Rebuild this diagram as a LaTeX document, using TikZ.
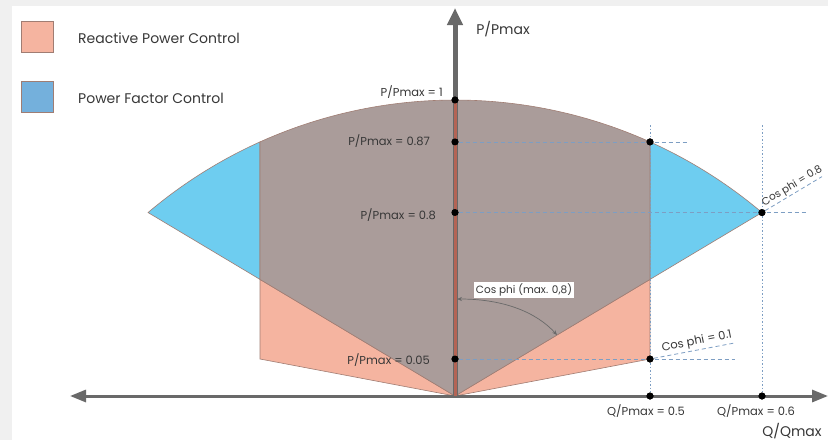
\documentclass[tikz,border=0pt]{standalone}
\usepackage{fontspec}
\setmainfont{Poppins}
\usetikzlibrary{arrows.meta,calc}

\definecolor{bgframe}{HTML}{F0F0F0}
\definecolor{reactive}{RGB}{245,180,160}
\definecolor{pfblue}{RGB}{110,205,240}
\definecolor{legblue}{RGB}{116,176,220}
\definecolor{opgray}{RGB}{170,156,154}
\definecolor{edge}{RGB}{160,125,115}
\definecolor{axisgray}{RGB}{105,105,105}
\definecolor{pline}{RGB}{180,100,85}
\definecolor{guide}{RGB}{125,158,195}
\definecolor{txt}{RGB}{55,55,55}

\begin{document}
\begin{tikzpicture}[x=1pt,y=-1pt,
  dot/.style={circle,fill=black,inner sep=0pt,minimum size=7pt},
  region/.style={draw=edge,line width=0.6pt},
  guideline/.style={draw=guide,line width=0.8pt,dash pattern=on 4pt off 3pt},
  guidevert/.style={draw=guide,line width=0.8pt,dash pattern=on 1.5pt off 2pt},
  lbl/.style={text=txt,font=\fontsize{11.5}{13}\selectfont,inner sep=0pt},
  biglbl/.style={text=txt,font=\fontsize{14}{16}\selectfont,inner sep=0pt},
  legbox/.style={draw=edge,line width=0.6pt},
  axisline/.style={draw=axisgray,line width=3pt},
]
\useasboundingbox (0,0) rectangle (828,440);
\fill[bgframe] (0,0) rectangle (828,440);
\fill[white] (12,6) rectangle (828,440);

% key points of the capability curve (circle centre C, radius 475)
\coordinate (O) at (455,396);
\coordinate (C) at (455,575);
\coordinate (RT) at ($(C)+(-65.76:475)$);   % right Q = 0.5 on the arc
\coordinate (LT) at ($(C)+(-114.24:475)$);  % left mirror
\coordinate (RTip) at ($(C)+(-49.74:475)$); % cos phi = 0.8 tip
\coordinate (LTip) at ($(C)+(-130.26:475)$);
\coordinate (RMid) at (650,279.4);
\coordinate (LMid) at (260,279.4);
\coordinate (RLow) at (650,359);
\coordinate (LLow) at (260,359);

% reactive power control areas
\fill[reactive,region] (O) -- (RLow) -- (RMid) -- cycle;
\fill[reactive,region] (O) -- (LLow) -- (LMid) -- cycle;
% power factor control areas
\fill[pfblue,region] (RT) arc[start angle=-65.76,end angle=-49.74,radius=475] -- (RMid) -- cycle;
\fill[pfblue,region] (LT) arc[start angle=-114.24,end angle=-130.26,radius=475] -- (LMid) -- cycle;
% common operating area
\fill[opgray,region] (O) -- (RMid) -- (RT) arc[start angle=-65.76,end angle=-114.24,radius=475] -- (LMid) -- cycle;

% axes
\draw[axisline,{Triangle[length=16pt,width=12pt]}-{Triangle[length=16pt,width=12pt]}] (70,396) -- (828,396);
\coordinate (Ptop) at (455,8);
\draw[draw=axisgray,line width=5pt,-{Triangle[length=17pt,width=15pt]}] (O) -- (Ptop);

% markers
\node[dot] (P1) at (455,100) {};
\node[dot] (P087) at (455,141.9) {};
\node[dot] (P08) at (455,212.5) {};
\node[dot] (P005) at (455,359) {};
\node[dot] (Q05top) at (RT) {};
\node[dot] (Q06top) at (RTip) {};
\node[dot] (Q05low) at (RLow) {};
\node[dot] (Q05) at (650,396) {};
\node[dot] (Q06) at (762,396) {};

\draw[pline,line width=3pt] (O) -- (P1.center);
\node[dot] at (P1) {};
\node[dot] at (P087) {};
\node[dot] at (P08) {};
\node[dot] at (P005) {};

% guide lines
\coordinate (g087) at (688,141.9);
\coordinate (g08) at (808,212.5);
\coordinate (g005) at (735,359);
\coordinate (v05) at (650,125);
\coordinate (v06) at (762,125);
\coordinate (ext08) at (822,176.6);
\coordinate (ext01) at (735,342.9);
\draw[guideline] (P087) -- (g087);
\draw[guideline] (P08) -- (g08);
\draw[guideline] (P005) -- (g005);
\draw[guidevert] (v05) -- (Q05);
\draw[guidevert] (v06) -- (Q06);
\draw[guideline] (Q06top) -- (ext08);
\draw[guideline] (Q05low) -- (ext01);
\node[dot] at (Q05top) {};
\node[dot] at (Q06top) {};
\node[dot] at (Q05low) {};
\node[dot] at (Q05) {};
\node[dot] at (Q06) {};

% labels
\node[lbl,anchor=east] (l1) at (443,92) {P/Pmax = 1};
\node[lbl,anchor=east] (l087) at (430,141) {P/Pmax = 0.87};
\node[lbl,anchor=east] (l08) at (436,215) {P/Pmax = 0.8};
\node[lbl,anchor=east] (l005) at (430,360) {P/Pmax = 0.05};
\node[lbl] (lq05) at (646,411) {Q/Pmax = 0.5};
\node[lbl] (lq06) at (756,411) {Q/Pmax = 0.6};
\node[lbl,rotate=31,anchor=south,font=\fontsize{10.5}{12}\selectfont] (lc08) at (795,191) {Cos phi = 0.8};
\node[lbl,rotate=11,anchor=south] (lc01) at (698,347.5) {Cos phi = 0.1};
\node[biglbl] (py) at (503,29) {P/Pmax};
\node[biglbl] (qx) at (792,431) {Q/Qmax};

% angle indicator
\coordinate (angA) at (457,299);
\coordinate (angB) at (557,335);
\draw[axisgray,line width=0.7pt,{Stealth[length=5pt,width=4pt]}-{Stealth[length=5pt,width=4pt]}]
  (angA) .. controls (505,299) and (537,313) .. (angB);
\node[lbl,fill=white,inner sep=1.5pt,font=\fontsize{10.5}{12}\selectfont] (lang) at (524,290) {Cos phi (max. 0,8)};

% legend
\fill[reactive,legbox] (21,21) rectangle (53,52);
\fill[legblue,legbox] (21,81) rectangle (53,112);
\node[biglbl,anchor=west] (leg1) at (78,38) {Reactive Power Control};
\node[biglbl,anchor=west] (leg2) at (78,98) {Power Factor Control};
\end{tikzpicture}
\end{document}
